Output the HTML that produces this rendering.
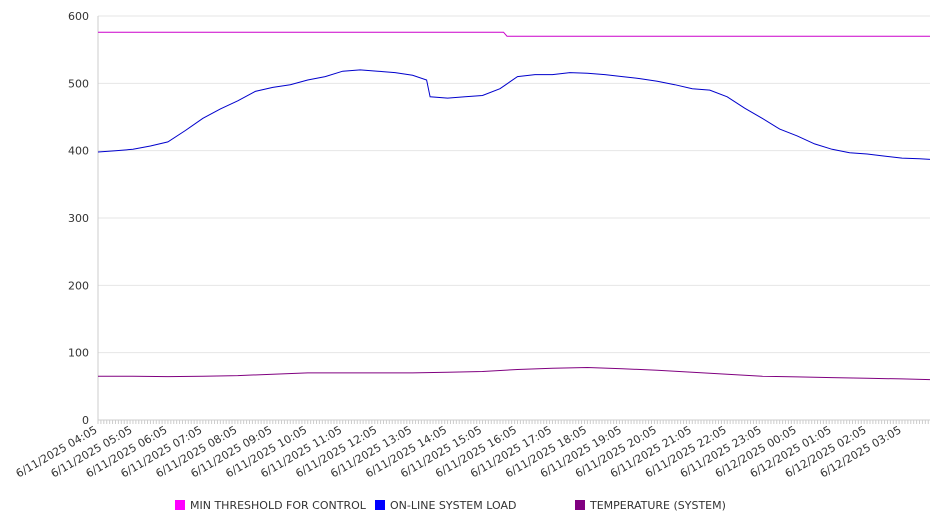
<!DOCTYPE html>
<html><head><meta charset="utf-8">
<style>
body{margin:0;background:#fff;}
svg{display:block;font-family:"DejaVu Sans","Liberation Sans",sans-serif;}
</style></head>
<body>
<svg id="chart" width="946" height="526" viewBox="0 0 946 526" xmlns="http://www.w3.org/2000/svg">
<g id="grid"></g>
<g id="yaxis"></g>
<g id="xaxis"></g>
<g id="series"></g>
<g id="legend">
  <rect x="175" y="500" width="10" height="10" fill="#ff00ff"/>
  <text x="190" y="509" font-size="11" fill="#333">MIN THRESHOLD FOR CONTROL</text>
  <rect x="375" y="500" width="10" height="10" fill="#0000ff"/>
  <text x="390" y="509" font-size="11" fill="#333">ON-LINE SYSTEM LOAD</text>
  <rect x="575" y="500" width="10" height="10" fill="#800080"/>
  <text x="590" y="509" font-size="11" fill="#333">TEMPERATURE (SYSTEM)</text>
</g>
</svg>
<script>
const yTicks=[0,100,200,300,400,500,600];
const xTickLabels=["6/11/2025 04:05","6/11/2025 05:05","6/11/2025 06:05","6/11/2025 07:05","6/11/2025 08:05","6/11/2025 09:05","6/11/2025 10:05","6/11/2025 11:05","6/11/2025 12:05","6/11/2025 13:05","6/11/2025 14:05","6/11/2025 15:05","6/11/2025 16:05","6/11/2025 17:05","6/11/2025 18:05","6/11/2025 19:05","6/11/2025 20:05","6/11/2025 21:05","6/11/2025 22:05","6/11/2025 23:05","6/12/2025 00:05","6/12/2025 01:05","6/12/2025 02:05","6/12/2025 03:05"];
const loadHours=[0,0.5,1,1.5,2,2.5,3,3.5,4,4.5,5,5.5,6,6.5,7,7.5,8,8.5,9,9.4,9.5,10,10.5,11,11.5,12,12.5,13,13.5,14,14.5,15,15.5,16,16.5,17,17.5,18,18.5,19,19.5,20,20.5,21,21.5,22,22.5,23,23.5,23.8];
const loadValues=[398,400,402,407,413,430,448,462,474,488,494,498,505,510,518,520,518,516,512,505,480,478,480,482,492,510,513,513,516,515,513,510,507,503,498,492,490,480,463,448,432,422,410,402,397,395,392,389,388,387];
const thresholdHours=[0,11.6,11.7,23.8];
const thresholdValues=[576,576,570,570];
const tempHours=[0,1,2,3,4,5,6,7,8,9,10,11,12,13,14,15,16,17,18,19,20,21,22,23,23.8];
const tempValues=[65,65,64.5,65,66,68,70,70,70,70,71,72,75,77,78,76,74,71,68,65,64,63,62,61,60];

const X0=98,X1=930,HMAX=23.8,Y0=420,YTOP=16,VMAX=600;
const xScale=h=>X0+h*(X1-X0)/HMAX;
const yScale=v=>Y0-v*(Y0-YTOP)/VMAX;
const NS="http://www.w3.org/2000/svg";
function mk(tag,attrs,parent){const e=document.createElementNS(NS,tag);for(const k in attrs)e.setAttribute(k,attrs[k]);parent.appendChild(e);return e;}
const grid=document.getElementById('grid'),yaxis=document.getElementById('yaxis'),xaxis=document.getElementById('xaxis'),series=document.getElementById('series');
yTicks.forEach(v=>{
  const y=yScale(v);
  if(v>0){const l=mk('line',{x1:X0,x2:X1,y1:y,y2:y,stroke:'#e6e6e6','stroke-width':1},grid);
  
  }
  const t=mk('text',{x:89,y:y+4,'text-anchor':'end','font-size':11,fill:'#333'},yaxis);
  t.textContent=v;
  
  
});
const ax=mk('line',{x1:X0,x2:X0,y1:YTOP,y2:Y0,stroke:'#ccc','stroke-width':1},yaxis);


const bx=mk('line',{x1:X0,x2:X1,y1:Y0,y2:Y0,stroke:'#ccc','stroke-width':1},xaxis);


for(let m=0;m<=HMAX*12;m++){
  const x=xScale(m/12);
  const tk=mk('line',{x1:x,x2:x,y1:Y0,y2:Y0+4,stroke:'#ccc','stroke-width':1},xaxis);
  
  
}
xTickLabels.forEach((lab,i)=>{
  const x=xScale(i);
  const t=mk('text',{x:x,y:Y0+12,'text-anchor':'end','font-size':11,fill:'#333',transform:`rotate(-30 ${x} ${Y0+12})`},xaxis);
  t.textContent=lab;
  
  
});
function line(hs,vs,color,name){
  const d=hs.map((h,i)=>(i?'L':'M')+xScale(h).toFixed(1)+' '+yScale(vs[i]).toFixed(1)).join(' ');
  const p=mk('path',{d:d,fill:'none',stroke:color,'stroke-width':1},series);
  
  
}
line(thresholdHours,thresholdValues,'#cc00cc','threshold-line');
line(loadHours,loadValues,'#0000cc','system-load-line');
line(tempHours,tempValues,'#800080','temperature-line');
</script>
</body></html>
